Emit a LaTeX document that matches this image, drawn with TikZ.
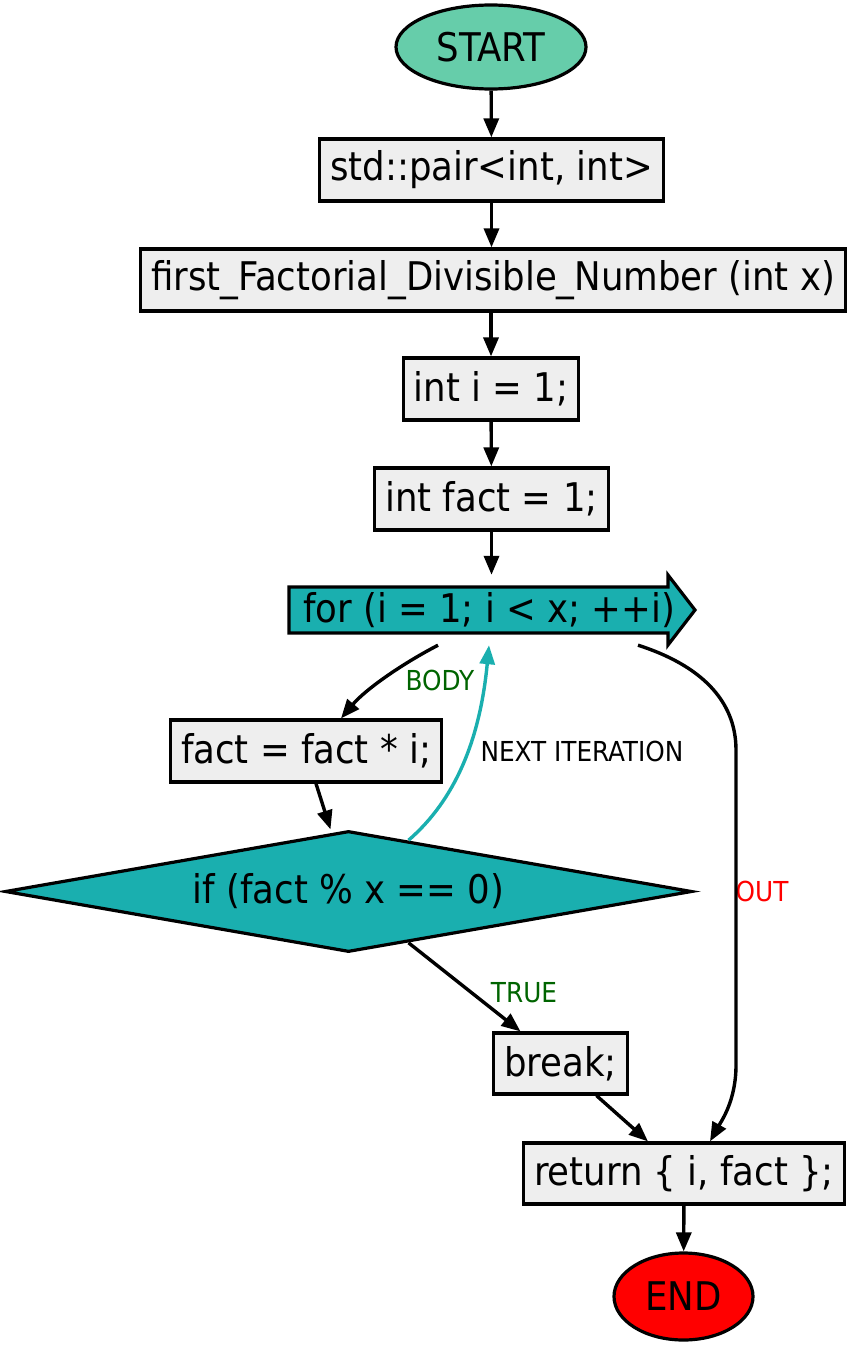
\documentclass[tikz,border=0pt]{standalone}
\usepackage{fontspec}
\setmainfont{DejaVu Sans Condensed}
\usepackage{tikz}
\usetikzlibrary{arrows.meta,%
                shapes.geometric,calc}
\definecolor{boxgray}{RGB}{238,238,238}
\definecolor{startgreen}{RGB}{102,205,170}
\definecolor{loopteal}{RGB}{26,175,175}
\definecolor{lbldark}{RGB}{0,100,0}
\begin{document}
\begin{tikzpicture}[x=1pt,y=1pt,
  every node/.style={font=\fontsize{39.5}{46}\selectfont},
  stmt/.style={draw,line width=3.2pt,fill=boxgray,minimum height=62,inner xsep=10.5,inner ysep=0},
  term/.style={draw,ellipse,line width=3.2pt,inner sep=0},
  cond/.style={draw,diamond,line width=3.2pt,fill=loopteal,minimum width=687,minimum height=121,inner sep=0,aspect=5.7},
  flow/.style={line width=3.4pt,-{Triangle[length=19,width=15]}},
  lbl/.style={font=\fontsize{27.5}{32}\selectfont}]
\useasboundingbox (0,0) rectangle (850,-1346);
\draw[line width=3.2pt,fill=loopteal] (289,-587) -- (668,-587) -- (668,-575) -- (695,-610) -- (668,-645) -- (668,-633) -- (289,-633) -- cycle;
\node[term,fill=startgreen,minimum width=190,minimum height=84] (start) at (491,-47) {START};
\node[stmt] (pair) at (491.5,-170) {std::pair<int, int>};
\node[stmt] (func) at (493,-280) {first\_Factorial\_Divisible\_Number (int x)};
\node[stmt] (initi) at (491,-389) {int i = 1;};
\node[stmt] (initf) at (491.5,-499) {int fact = 1;};
\node[minimum width=406,minimum height=70,inner sep=0] (loop) at (489,-610) {for (i = 1; i < x; ++i)};
\node[stmt] (mul) at (306,-751) {fact = fact * i;};
\node[cond] (test) at (348.5,-891.5) {if (fact \% x == 0)};
\node[stmt,minimum height=61] (brk) at (560.5,-1063.5) {break;};
\node[stmt,minimum height=61] (ret) at (684,-1173.5) {return \{ i, fact \};};
\node[term,fill=red,minimum width=139,minimum height=87] (stop) at (683.5,-1296.5) {END};
\node[lbl,text=lbldark] (bodylbl) at (440,-680) {BODY};
\node[lbl] (nextlbl) at (582,-751) {NEXT ITERATION};
\node[lbl,text=red] (outlbl) at (762,-891) {OUT};
\node[lbl,text=lbldark] (truelbl) at (524,-993) {TRUE};
\draw[flow] (start) -- (pair);
\draw[flow] (pair) -- (func.north -| pair.south);
\draw[flow] (func.south -| initi.north) -- (initi);
\draw[flow] (initi) -- (initf);
\draw[flow] (initf.south) -- (initf.south |- loop.north);
\draw[flow] ([xshift=-51]loop.south) .. controls (400,-665) and (365,-690) .. ([xshift=35]mul.north);
\draw[flow] ([xshift=10]mul.south) -- ([xshift=-18]test.north);
\draw[flow,draw=loopteal] ($(test.north)!0.174!(test.east)$) .. controls (455,-800) and (480,-740) .. (loop.south);
\draw[flow] ([xshift=149]loop.south) .. controls (700,-665) and (736,-700) .. (736,-750) -- (736,-1065) .. controls (736,-1100) and (722,-1120) .. ([xshift=26]ret.north);
\draw[flow] ($(test.south)!0.174!(test.east)$) -- ([xshift=-40]brk.north);
\draw[flow] ([xshift=36]brk.south) -- ([xshift=-36]ret.north);
\draw[flow] (ret) -- (stop);
\end{tikzpicture}
\end{document}
